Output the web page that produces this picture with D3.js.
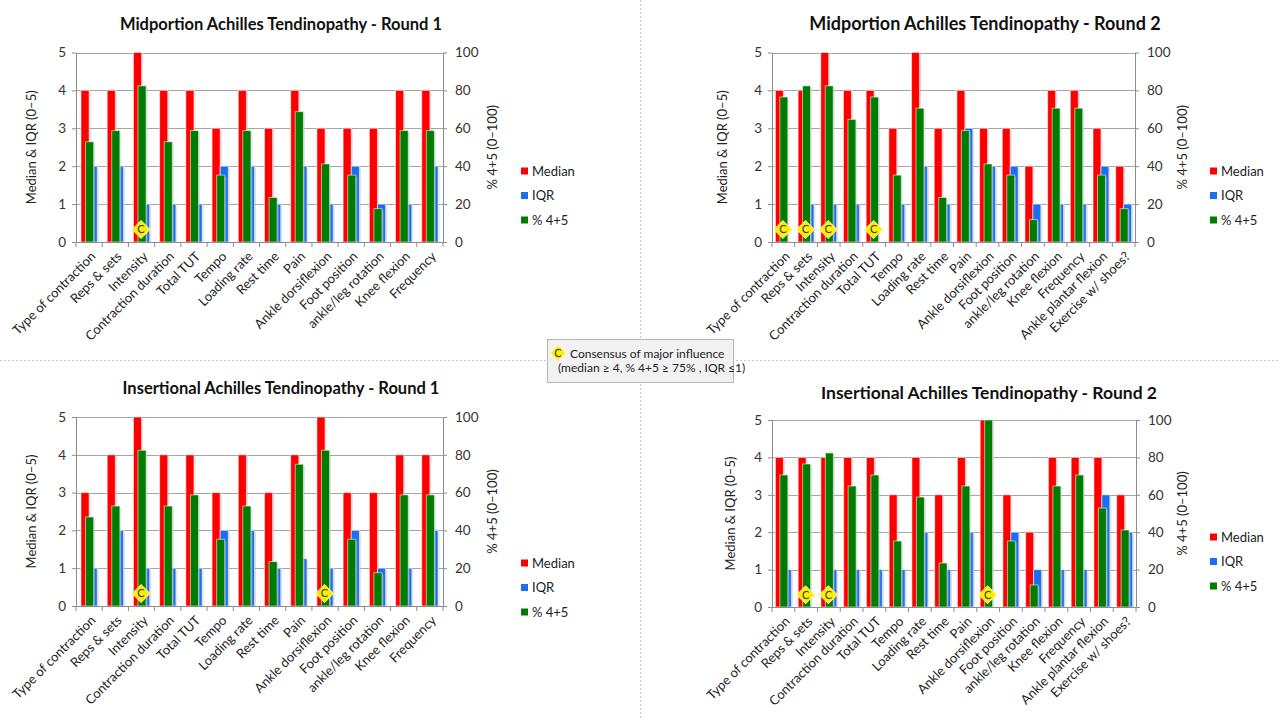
<!DOCTYPE html>
<html><head><meta charset="utf-8">
<script src="https://cdn.jsdelivr.net/npm/d3@7/dist/d3.min.js"></script>
<style>
body{margin:0;background:#fff}
svg{display:block}
text{font-family:Lato,"Liberation Sans",sans-serif}
</style>
</head><body>
<svg id="c" width="1280" height="720"></svg>
<script>
// ---------- DATA ----------
const cats14 = ["Type of contraction","Reps & sets","Intensity","Contraction duration","Total TUT","Tempo","Loading rate","Rest time","Pain","Ankle dorsiflexion","Foot position","ankle/leg rotation","Knee flexion","Frequency"];
const cats16 = ["Type of contraction","Reps & sets","Intensity","Contraction duration","Total TUT","Tempo","Loading rate","Rest time","Pain","Ankle dorsiflexion","Foot position","ankle/leg rotation","Knee flexion","Frequency","Ankle plantar flexion","Exercise w/ shoes?"];

const midR1Median = [4,4,5,4,4,3,4,3,4,3,3,3,4,4];
const midR1IQR    = [2,2,1,1,1,2,2,1,2,1,2,1,1,2];
const midR1Pct    = [52.9,58.8,82.4,52.9,58.8,35.3,58.8,23.5,68.8,41.2,35.3,17.6,58.8,58.8];
const midR1Consensus = ["Intensity"];

const midR2Median = [4,4,5,4,4,3,5,3,4,3,3,2,4,4,3,2];
const midR2IQR    = [0,1,1,1,0,1,2,1,3,2,2,1,1,1,2,1];
const midR2Pct    = [76.5,82.4,82.4,64.7,76.5,35.3,70.6,23.5,58.8,41.2,35.3,11.8,70.6,70.6,35.3,17.6];
const midR2Consensus = ["Type of contraction","Reps & sets","Intensity","Total TUT"];

const insR1Median = [3,4,5,4,4,3,4,3,4,5,3,3,4,4];
const insR1IQR    = [1,2,1,1,1,2,2,1,1.25,1,2,1,1,2];
const insR1Pct    = [47.1,52.9,82.4,52.9,58.8,35.3,52.9,23.5,75,82.4,35.3,17.6,58.8,58.8];
const insR1Consensus = ["Intensity","Ankle dorsiflexion"];

const insR2Median = [4,4,4,4,4,3,4,3,4,5,3,2,4,4,4,3];
const insR2IQR    = [1,0,1,1,1,1,2,1,2,0,2,1,1,1,3,2];
const insR2Pct    = [70.6,76.5,82.4,64.7,70.6,35.3,58.8,23.5,64.7,100,35.3,11.8,64.7,70.6,52.9,41.2];
const insR2Consensus = ["Reps & sets","Intensity","Ankle dorsiflexion"];

const leftTicks  = [0,1,2,3,4,5];
const rightTicks = [0,20,40,60,80,100];
const seriesNames = ["Median","IQR","% 4+5"];
const titles = ["Midportion Achilles Tendinopathy - Round 1","Midportion Achilles Tendinopathy - Round 2","Insertional Achilles Tendinopathy - Round 1","Insertional Achilles Tendinopathy - Round 2"];
const leftAxisTitle = "Median & IQR (0–5)";
const rightAxisTitle = "% 4+5 (0–100)";
const noteLine1 = "Consensus of major influence";
const noteLine2 = "(median ≥ 4, % 4+5 ≥ 75% , IQR ≤1)";
const markerLabel = "C";

// ---------- LAYOUT / STYLE ----------
const colors = {median:"#ff0000", iqr:"#1a6ef0", pct:"#007d00"};
const panels = [
  {title:titles[0], cats:cats14, median:midR1Median, iqr:midR1IQR, pct:midR1Pct, cons:midR1Consensus,
   x0:76, x1:443, yt:52.5, yb:242, tx:281, ty:30, tfs:16.5, lt:31, rt:492, lgx:521, lgy:171},
  {title:titles[1], cats:cats16, median:midR2Median, iqr:midR2IQR, pct:midR2Pct, cons:midR2Consensus,
   x0:772, x1:1135, yt:52.5, yb:242, tx:985, ty:30, tfs:18, lt:722, rt:1182, lgx:1210, lgy:171},
  {title:titles[2], cats:cats14, median:insR1Median, iqr:insR1IQR, pct:insR1Pct, cons:insR1Consensus,
   x0:76, x1:443, yt:417, yb:606, tx:281, ty:394, tfs:16.5, lt:31, rt:492, lgx:521, lgy:563},
  {title:titles[3], cats:cats16, median:insR2Median, iqr:insR2IQR, pct:insR2Pct, cons:insR2Consensus,
   x0:772, x1:1136, yt:420, yb:607, tx:989, ty:399, tfs:17.5, lt:730, rt:1182, lgx:1210, lgy:537}
];

const svg = d3.select("#c");

// dotted dividers
svg.append("line").attr("x1",640.5).attr("x2",640.5).attr("y1",0).attr("y2",720)
  .attr("stroke","#c8c8c8").attr("stroke-dasharray","2,2");
svg.append("line").attr("x1",0).attr("x2",1280).attr("y1",360.5).attr("y2",360.5)
  .attr("stroke","#c8c8c8").attr("stroke-dasharray","2,2");

function diamond(g, cx, cy, r){
  const m = g.append("g").attr("transform",`translate(${cx},${cy})`);
  m.append("path").attr("d",`M0,${-r-1}L${r+1},0L0,${r+1}L${-r-1},0Z`).attr("fill","#fff59a");
  m.append("path").attr("d",`M0,${-r}L${r},0L0,${r}L${-r},0Z`).attr("fill","#ffee00");
  m.append("text").attr("text-anchor","middle").attr("dy","0.36em").attr("font-size",11)
    .attr("fill","#333").text(markerLabel);
}

panels.forEach(p => {
  const g = svg.append("g");
  const x = d3.scaleBand().domain(p.cats).range([p.x0,p.x1]).paddingInner(0).paddingOuter(0);
  const y = d3.scaleLinear().domain([0,5]).range([p.yb,p.yt]);
  const y2 = d3.scaleLinear().domain([0,100]).range([p.yb,p.yt]);
  const step = x.step();
  const w = step * (p.cats.length > 14 ? 0.35 : 0.31);

  // title
  g.append("text").attr("x",p.tx).attr("y",p.ty).attr("text-anchor","middle")
    .attr("font-size",p.tfs).attr("font-weight","bold").attr("fill","#111").text(p.title);

  // gridlines
  g.append("g").selectAll("line").data(leftTicks.slice(1)).join("line")
    .attr("x1",p.x0).attr("x2",p.x1).attr("y1",d=>Math.round(y(d))+0.5).attr("y2",d=>Math.round(y(d))+0.5)
    .attr("stroke","#a6a6a6").attr("stroke-width",1);

  // left axis
  const la = g.append("g").attr("transform",`translate(${p.x0},0)`)
    .call(d3.axisLeft(y).tickValues(leftTicks).tickFormat(d3.format("d")).tickSizeInner(4).tickSizeOuter(0).tickPadding(6));
  // right axis
  const ra = g.append("g").attr("transform",`translate(${p.x1},0)`)
    .call(d3.axisRight(y2).tickValues(rightTicks).tickFormat(d3.format("d")).tickSizeInner(4).tickSizeOuter(0).tickPadding(8));
  [la,ra].forEach(a=>{
    a.selectAll("path,line").attr("stroke","#8c8c8c");
    a.selectAll("text").attr("font-size",13.5).attr("fill","#333").style("font-family","Lato,'Liberation Sans',sans-serif");
  });

  // bars
  const idx = d3.range(p.cats.length);
  const cx = i => x(p.cats[i]) + step/2;
  function bars(vals, scale, off, col){
    const data = idx.filter(i=>vals[i]>0);
    g.append("g").selectAll("rect").data(data).join("rect")
      .attr("x",i=>cx(i)+off+1.5).attr("width",w).attr("y",i=>scale(vals[i])+1.5)
      .attr("height",i=>p.yb-scale(vals[i])-1.5).attr("fill","#b9bccc").attr("opacity",0.45);
    g.append("g").selectAll("rect").data(data).join("rect")
      .attr("x",i=>cx(i)+off).attr("width",w).attr("y",i=>scale(vals[i]))
      .attr("height",i=>p.yb-scale(vals[i])).attr("fill",col)
      .attr("stroke","#ffffff").attr("stroke-opacity",0.55).attr("stroke-width",1);
  }
  bars(p.median, y, -w, colors.median);
  bars(p.iqr, y, 0, colors.iqr);
  bars(p.pct, y2, -w/2+0.5, colors.pct);

  // x axis
  const xa = g.append("g").attr("transform",`translate(0,${p.yb})`)
    .call(d3.axisBottom(x).tickSize(0).tickPadding(0));
  xa.select(".domain").attr("stroke","#8c8c8c");
  xa.selectAll(".tick text").attr("font-size",13).attr("fill","#222")
    .style("font-family","Lato,'Liberation Sans',sans-serif")
    .attr("text-anchor","end").attr("dy","0.35em")
    .attr("transform","translate(4,12) rotate(-45)");
  // category boundary ticks
  g.append("g").selectAll("line").data(d3.range(p.cats.length+1)).join("line")
    .attr("x1",i=>p.x0+i*step).attr("x2",i=>p.x0+i*step).attr("y1",p.yb).attr("y2",p.yb+5)
    .attr("stroke","#8c8c8c");

  // consensus markers
  p.cons.forEach(c=>{
    diamond(g, x(c)+step/2 - 0.5, y(0.33), 8.5);
  });

  // axis titles
  const cy = (p.yt+p.yb)/2;
  g.append("text").attr("transform",`translate(${p.lt},${cy}) rotate(-90)`).attr("text-anchor","middle")
    .attr("dy","0.35em").attr("font-size",13).attr("fill","#222").text(leftAxisTitle);
  g.append("text").attr("transform",`translate(${p.rt},${cy}) rotate(-90)`).attr("text-anchor","middle")
    .attr("dy","0.35em").attr("font-size",13).attr("fill","#222").text(rightAxisTitle);

  // legend
  const lg = g.append("g").attr("transform",`translate(${p.lgx},${p.lgy})`);
  [colors.median, colors.iqr, colors.pct].forEach((col,k)=>{
    lg.append("rect").attr("x",0).attr("y",k*24.5-3.5).attr("width",7).attr("height",7).attr("fill",col);
    lg.append("text").attr("x",11).attr("y",k*24.5).attr("dy","0.35em").attr("font-size",13)
      .attr("fill","#222").text(seriesNames[k]);
  });
});

// center note box
const nb = svg.append("g");
nb.append("rect").attr("x",547.5).attr("y",339.5).attr("width",186).attr("height",43)
  .attr("fill","#f2f2f2").attr("stroke","#b5b5b5");
diamond(nb, 558, 353, 7);
nb.append("text").attr("x",570).attr("y",354).attr("dy","0.35em").attr("font-size",12).attr("fill","#222").text(noteLine1);
nb.append("text").attr("x",558).attr("y",368).attr("dy","0.35em").attr("font-size",12).attr("fill","#222").text(noteLine2);
</script>
</body></html>
